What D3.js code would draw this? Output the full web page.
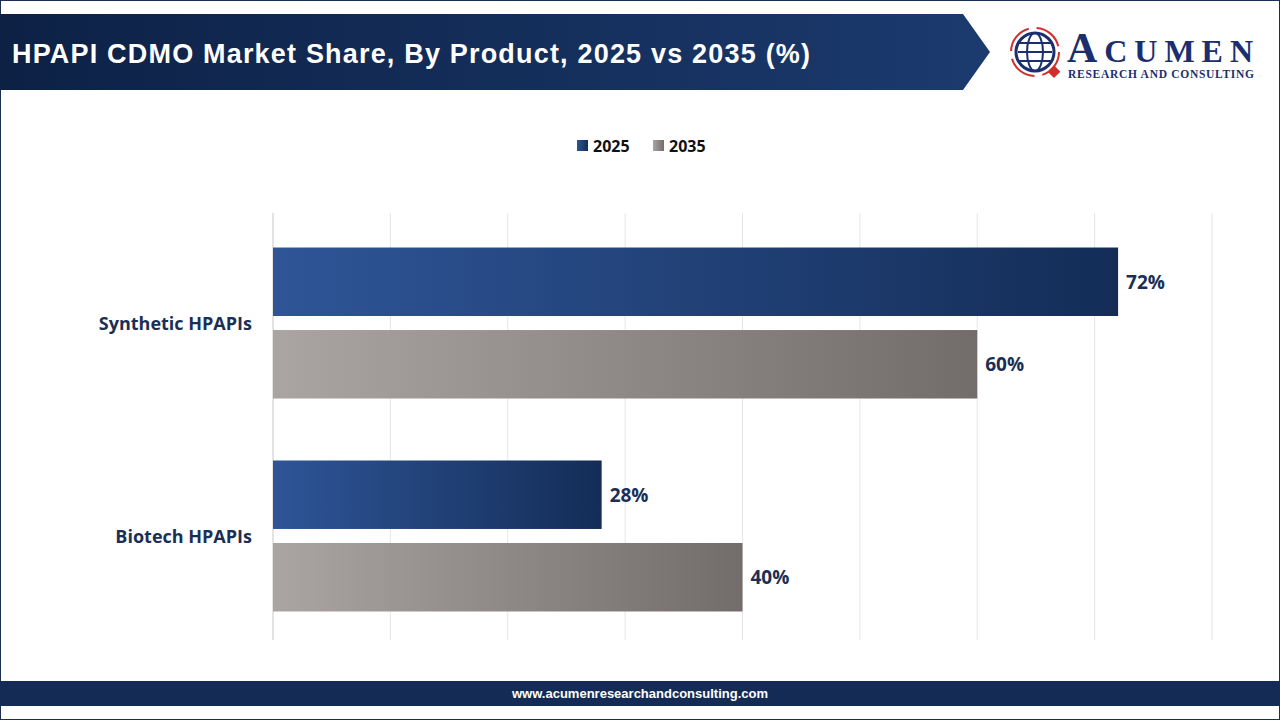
<!DOCTYPE html>
<html><head><meta charset="utf-8">
<script src="https://cdn.jsdelivr.net/npm/d3@7"></script>
<style>body{margin:0;background:#fff}svg{display:block}</style>
</head><body>
<svg id="chart" width="1280" height="720"></svg>
<script>
const categories = ["Synthetic HPAPIs", "Biotech HPAPIs"];
const years = ["2025", "2035"];
const values2025 = [72, 28];
const values2035 = [60, 40];
const ticks = [0, 10, 20, 30, 40, 50, 60, 70, 80];

const svg = d3.select("#chart");
const defs = svg.append("defs");

function grad(id, a, b) {
  const g = defs.append("linearGradient").attr("id", id);
  g.append("stop").attr("offset", "0%").attr("stop-color", a);
  g.append("stop").attr("offset", "100%").attr("stop-color", b);
}
grad("gBlue", "#2f5597", "#132d57");
grad("gGray", "#aaa5a3", "#726d6b");
grad("gHead", "#0d2145", "#1b3a6e");

// frame
svg.append("rect").attr("x", 0.5).attr("y", 0.5).attr("width", 1279).attr("height", 719)
  .attr("fill", "#fff").attr("stroke", "#1b2f55");

// header banner
svg.append("path").attr("d", "M0,14 L963,14 L990,52 L963,90 L0,90 Z").attr("fill", "url(#gHead)");
svg.append("text").attr("x", 12).attr("y", 63).attr("fill", "#fff")
  .attr("font-family", "Liberation Sans, Arial, sans-serif").attr("font-weight", 700).attr("font-size", 27)
  .attr("textLength", 798).text("HPAPI CDMO Market Share, By Product, 2025 vs 2035 (%)");

// logo
const logo = svg.append("g").attr("transform", "translate(1035,52)");
logo.append("circle").attr("r", 24).attr("fill", "none").attr("stroke", "#d0302b").attr("stroke-width", 2).attr("stroke-dasharray", "30 8");
logo.append("circle").attr("r", 19).attr("fill", "#fff").attr("stroke", "#1b2f6e").attr("stroke-width", 3);
logo.append("ellipse").attr("rx", 8).attr("ry", 19).attr("fill", "none").attr("stroke", "#1b2f6e").attr("stroke-width", 2);
[-9, 0, 9].forEach(y => logo.append("line").attr("x1", -17).attr("x2", 17).attr("y1", y).attr("y2", y).attr("stroke", "#1b2f6e").attr("stroke-width", 2));
logo.append("rect").attr("x", 15).attr("y", 15).attr("width", 9).attr("height", 9).attr("fill", "#d0302b").attr("transform", "rotate(45,19,19)");
svg.append("text").attr("x", 1067).attr("y", 62).attr("fill", "#1b2f6e")
  .attr("font-family", "Liberation Serif, serif").attr("font-weight", 700).attr("font-size", 42)
  .attr("textLength", 186).text("A")
  .append("tspan").attr("font-size", 32).text("CUMEN");
svg.append("text").attr("x", 1068).attr("y", 78).attr("fill", "#1b2f6e")
  .attr("font-family", "Liberation Serif, serif").attr("font-weight", 700).attr("font-size", 11.5)
  .attr("textLength", 186).text("RESEARCH AND CONSULTING");

// legend
const legend = svg.append("g").attr("font-family", "Open Sans, Arial, sans-serif").attr("font-weight", 700).attr("font-size", 16).attr("fill", "#111");
[["2025", "url(#gBlue)", 577], ["2035", "url(#gGray)", 653]].forEach(([t, f, x]) => {
  legend.append("rect").attr("x", x).attr("y", 140).attr("width", 11).attr("height", 11).attr("fill", f);
  legend.append("text").attr("x", x + 16).attr("y", 152).text(t);
});

// chart
const x = d3.scaleLinear().domain([0, 80]).range([273, 1212]);
const y0 = d3.scaleBand().domain(categories).range([216, 643]).paddingInner(0.291).paddingOuter(0.148);
const y1 = d3.scaleBand().domain(years).range([0, y0.bandwidth()]).paddingInner(0.17);

svg.append("g").selectAll("line").data(ticks).join("line")
  .attr("x1", d => x(d)).attr("x2", d => x(d)).attr("y1", 213).attr("y2", 640)
  .attr("stroke", d => d === 0 ? "#c8c8c8" : "#e6e6e6");

const groups = svg.append("g").selectAll("g").data(categories).join("g")
  .attr("transform", d => `translate(0,${y0(d)})`);

groups.each(function (c, i) {
  const g = d3.select(this);
  [[values2025[i], "2025", "url(#gBlue)"], [values2035[i], "2035", "url(#gGray)"]].forEach(([v, yr, f]) => {
    g.append("rect").attr("x", x(0)).attr("y", y1(yr)).attr("width", x(v) - x(0)).attr("height", y1.bandwidth()).attr("fill", f);
    g.append("text").attr("x", x(v) + 8).attr("y", y1(yr) + y1.bandwidth() / 2 + 7)
      .attr("font-family", "Open Sans, Arial, sans-serif").attr("font-weight", 700).attr("font-size", 19).attr("fill", "#1b2f55")
      .text(v + "%");
  });
  g.append("text").attr("x", 252).attr("y", y0.bandwidth() / 2 + 7).attr("text-anchor", "end")
    .attr("font-family", "Open Sans, Arial, sans-serif").attr("font-weight", 700).attr("font-size", 18).attr("fill", "#1b2f55")
    .text(c);
});

// footer
svg.append("rect").attr("x", 0).attr("y", 681).attr("width", 1280).attr("height", 25).attr("fill", "#142c55");
svg.append("text").attr("x", 640).attr("y", 698).attr("text-anchor", "middle").attr("fill", "#fff")
  .attr("font-family", "Liberation Sans, Arial, sans-serif").attr("font-weight", 700).attr("font-size", 13)
  .text("www.acumenresearchandconsulting.com");
</script>
</body></html>
